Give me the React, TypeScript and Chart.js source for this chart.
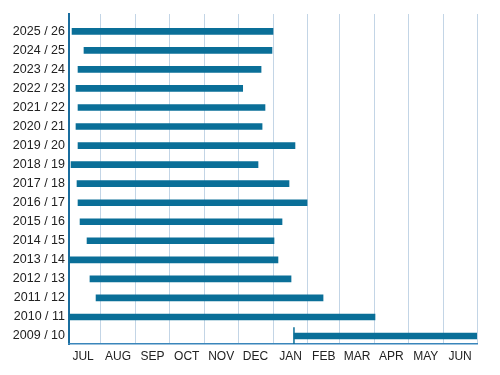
import React, { useEffect, useRef } from "react";
import { Chart, registerables } from "chart.js";

Chart.register(...registerables);

// Seasons, bottom (index 0) to top
const seasons = [
  "2009 / 10", "2010 / 11", "2011 / 12", "2012 / 13", "2013 / 14", "2014 / 15",
  "2015 / 16", "2016 / 17", "2017 / 18", "2018 / 19", "2019 / 20", "2020 / 21",
  "2021 / 22", "2022 / 23", "2023 / 24", "2024 / 25", "2025 / 26",
];
// Days since 1 July: start and end of each season's bar
const startDays = [202.6, 0, 27, 21.6, 0, 19, 12.8, 11, 10.1, 4.8, 11, 9.2, 11, 9.2, 11, 16.3, 5.7];
const endDays = [370, 274.5, 228.4, 200, 188.4, 184.9, 192, 214.2, 198.2, 170.7, 203.5, 174.3, 176.9, 157.1, 173.4, 183.1, 184];
// Marker at the start of the 2009/10 bar
const markerDay = 202.6;

const monthLabels = ["JUL", "AUG", "SEP", "OCT", "NOV", "DEC", "JAN", "FEB", "MAR", "APR", "MAY", "JUN"];
const monthStarts = [31, 62, 92, 123, 153, 184, 215, 243, 274, 304, 335, 365];
const monthMids = [15.5, 46.5, 77, 107.5, 138, 168.5, 199.5, 229, 258.5, 289, 319.5, 350];

const X_MIN = 3;
const X_MAX = 365;
const Y_MIN = -0.42;
const Y_MAX = 16.91;

const BAR = "#0a6f98";

export default function App() {
  const ref = useRef<HTMLCanvasElement | null>(null);

  useEffect(() => {
    if (!ref.current) return;
    const chart = new Chart(ref.current, {
      type: "bar",
      data: {
        datasets: [
          {
            type: "bar",
            data: seasons.map((_, i) => ({ x: [startDays[i], endDays[i]], y: i })) as any,
            backgroundColor: BAR,
            borderWidth: 0,
            barThickness: 6,
            xAxisID: "x",
            yAxisID: "y",
          } as any,
          {
            type: "line",
            data: [
              { x: markerDay, y: Y_MIN },
              { x: markerDay, y: 0.46 },
            ],
            borderColor: BAR,
            borderWidth: 1.5,
            pointRadius: 0,
            fill: false,
            xAxisID: "x",
            yAxisID: "y",
          } as any,
        ],
      },
      options: {
        indexAxis: "y",
        animation: false,
        responsive: true,
        maintainAspectRatio: false,
        layout: { padding: { top: 14, right: 23, left: 0, bottom: 0 } },
        plugins: { legend: { display: false }, tooltip: { enabled: false } },
        scales: {
          y: {
            type: "linear",
            position: "left",
            min: Y_MIN,
            max: Y_MAX,
            offset: false,
            afterBuildTicks: (s: any) => {
              s.ticks = seasons.map((_, i) => ({ value: i }));
            },
            afterFit: (s: any) => {
              s.width = 69;
            },
            ticks: {
              callback: (v: any) => seasons[Math.round(Number(v))] ?? "",
              font: { family: "'Liberation Sans', Arial, sans-serif", size: 12.5 },
              color: "#222",
              padding: 4,
              autoSkip: false,
            },
            grid: { display: false, drawTicks: false },
            border: { display: true, color: "#1a6d9e", width: 2 },
          },
          x: {
            type: "linear",
            position: "bottom",
            min: X_MIN,
            max: X_MAX,
            offset: false,
            afterBuildTicks: (s: any) => {
              s.ticks = monthStarts.map((v) => ({ value: v }));
            },
            afterFit: (s: any) => {
              s.height = 0;
            },
            ticks: { display: false },
            grid: { color: "#c3d5e6", lineWidth: 1, drawTicks: false },
            border: { display: true, color: "#3a86bb", width: 1.5 },
          },
          x2: {
            type: "linear",
            position: "bottom",
            min: X_MIN,
            max: X_MAX,
            offset: false,
            afterBuildTicks: (s: any) => {
              s.ticks = monthMids.map((v) => ({ value: v }));
            },
            afterFit: (s: any) => {
              s.height = 31;
            },
            ticks: {
              callback: (_v: any, i: number) => monthLabels[i] ?? "",
              font: { family: "'Liberation Sans', Arial, sans-serif", size: 12 },
              color: "#222",
              padding: 5,
              autoSkip: false,
              maxRotation: 0,
            },
            grid: { display: false, drawTicks: false },
            border: { display: false },
          },
        },
      } as any,
    });
    return () => chart.destroy();
  }, []);

  return (
    <div style={{ position: "fixed", left: 0, top: 0, width: 500, height: 375, background: "#fff" }}>
      <canvas ref={ref} />
    </div>
  );
}
